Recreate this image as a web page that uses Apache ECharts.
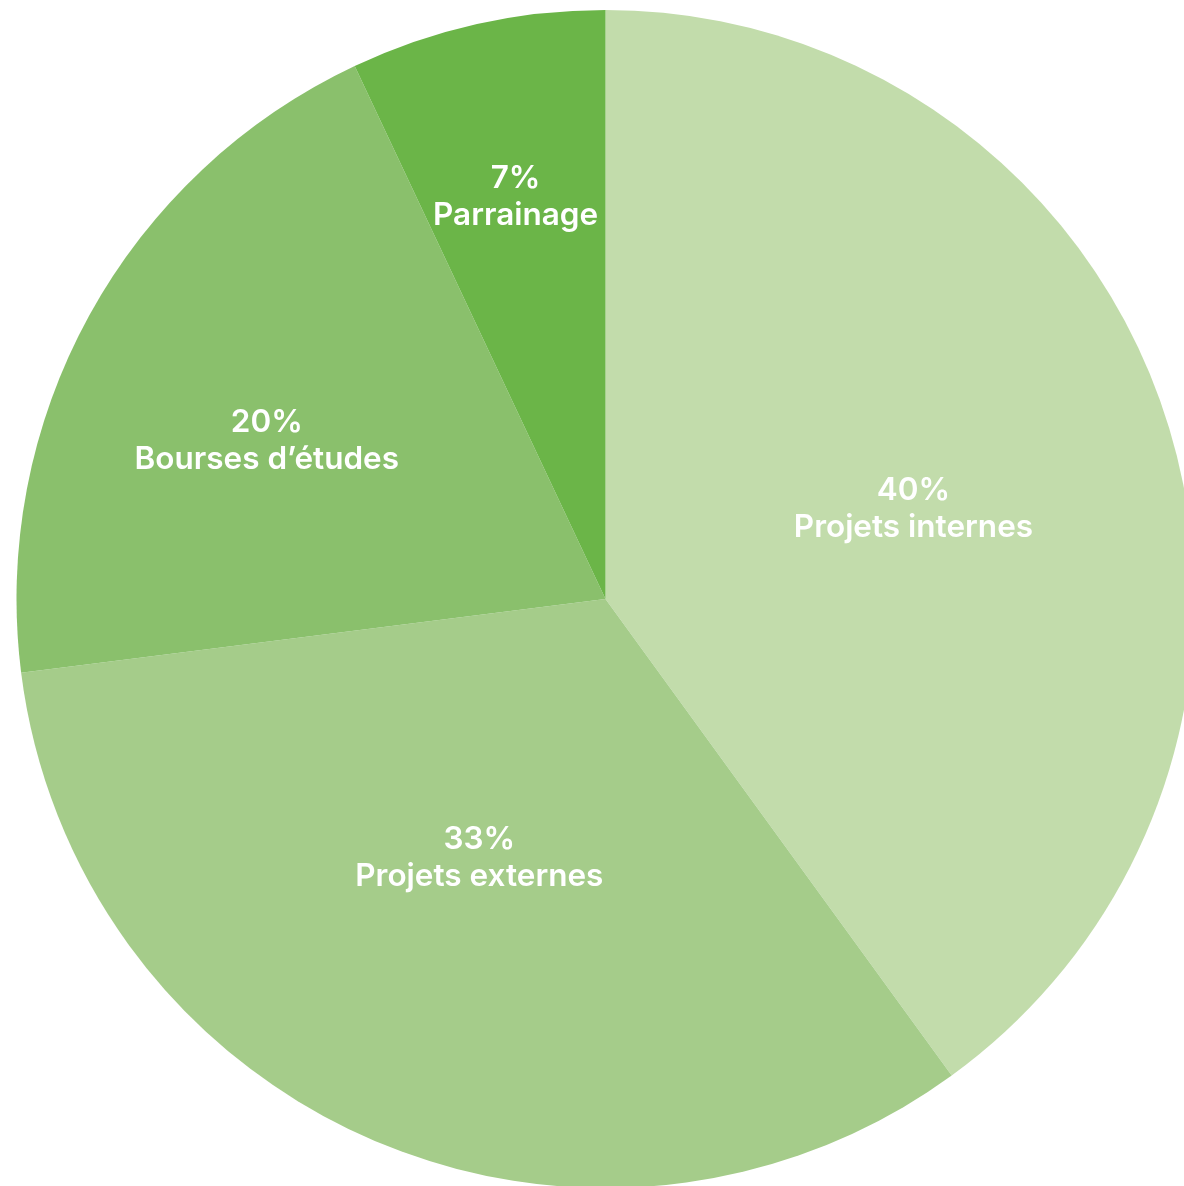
<!DOCTYPE html>
<html>
<head>
<meta charset="utf-8">
<script src="https://cdn.jsdelivr.net/npm/echarts@6/dist/echarts.min.js"></script>
<style>
html,body{margin:0;padding:0;background:#fff;}
#chart{width:1184px;height:1186px;}
</style>
</head>
<body>
<div id="chart"></div>
<script>
const categories = ['Projets internes', 'Projets externes', 'Bourses d’études', 'Parrainage'];
const values = [40, 33, 20, 7];
const colors = ['#c2dcab', '#a5cc8a', '#8ac06c', '#6bb548'];
// label nudges (px) from the library's default inside-label position
const labelNudge = [[25, 2], [-8, -14], [-78, -15], [-25, -112]];

const CX = 605.5, CY = 599, R = 589;

const chart = echarts.init(document.getElementById('chart'), null, {renderer: 'canvas'});
chart.setOption({
  animation: false,
  backgroundColor: '#ffffff',
  series: [{
    type: 'pie',
    center: [CX, CY],
    radius: [0, R],
    startAngle: 90,
    clockwise: true,
    avoidLabelOverlap: false,
    itemStyle: {borderWidth: 0},
    label: {
      show: true,
      position: 'inside',
      formatter: p => p.value + '%\n' + p.name,
      color: '#ffffff',
      fontFamily: 'Inter',
      fontWeight: 600,
      fontSize: 31.5,
      lineHeight: 37,
      align: 'center'
    },
    labelLine: {show: false},
    labelLayout: function (params) {
      const n = labelNudge[params.dataIndex];
      return {dx: n[0], dy: n[1]};
    },
    emphasis: {disabled: true},
    data: categories.map((c, i) => ({name: c, value: values[i], itemStyle: {color: colors[i]}}))
  }]
});
</script>
</body>
</html>
